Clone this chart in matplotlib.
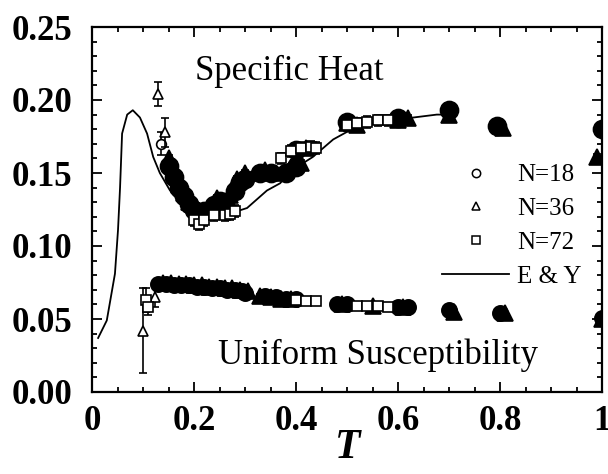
import numpy as np
import matplotlib
matplotlib.use("Agg")
import matplotlib.pyplot as plt
from matplotlib.lines import Line2D

plt.rcParams['font.family'] = ['Liberation Serif', 'DejaVu Serif']

# E & Y curve (specific heat)
ey_t = [0.012, 0.029, 0.045, 0.051, 0.055, 0.059, 0.069, 0.080, 0.094, 0.108, 0.120,
        0.133, 0.153, 0.179, 0.198, 0.22, 0.25, 0.277, 0.304, 0.343, 0.369, 0.388,
        0.433, 0.473, 0.520, 0.584, 0.676, 0.70]
ey_c = [0.037, 0.049, 0.081, 0.111, 0.140, 0.177, 0.190, 0.193, 0.188, 0.177, 0.161,
        0.150, 0.138, 0.127, 0.123, 0.121, 0.121, 0.123, 0.126, 0.138, 0.143, 0.151,
        0.161, 0.173, 0.182, 0.186, 0.190, 0.190]

# specific heat data
c18_t = [0.135, 0.15, 0.16, 0.17, 0.18, 0.19, 0.20, 0.22, 0.24, 0.25, 0.26, 0.28, 0.29,
         0.30, 0.33, 0.35, 0.38, 0.40, 0.40, 0.50, 0.60, 0.70, 0.795, 1.00]
c18_v = [0.170, 0.155, 0.147, 0.140, 0.134, 0.129, 0.125, 0.124, 0.128, 0.131, 0.130,
         0.138, 0.144, 0.146, 0.150, 0.150, 0.150, 0.154, 0.166, 0.185, 0.188, 0.193,
         0.182, 0.180]
c18_e = [0.008] + [0.002] * 23

c36_t = [0.130, 0.143, 0.15, 0.16, 0.17, 0.18, 0.19, 0.21, 0.23, 0.245, 0.27, 0.285,
         0.30, 0.34, 0.36, 0.39, 0.41, 0.42, 0.50, 0.52, 0.60, 0.62, 0.70, 0.805, 0.99]
c36_v = [0.204, 0.178, 0.160, 0.150, 0.142, 0.136, 0.130, 0.124, 0.125, 0.133, 0.135,
         0.146, 0.150, 0.152, 0.150, 0.154, 0.157, 0.167, 0.184, 0.183, 0.186, 0.188,
         0.190, 0.181, 0.161]
c36_e = [0.008, 0.010] + [0.002] * 23

c72_t = [0.20, 0.21, 0.22, 0.24, 0.26, 0.27, 0.28, 0.37, 0.39, 0.41, 0.43, 0.44,
         0.50, 0.52, 0.54, 0.56, 0.58]
c72_v = [0.118, 0.115, 0.118, 0.121, 0.121, 0.122, 0.124, 0.160, 0.165, 0.167, 0.168,
         0.167, 0.183, 0.184, 0.185, 0.186, 0.186]
c72_e = [0.004] * 17

# uniform susceptibility data
x18_t = [0.13, 0.145, 0.16, 0.175, 0.19, 0.205, 0.22, 0.235, 0.25, 0.265, 0.28, 0.295,
         0.30, 0.34, 0.36, 0.38, 0.40, 0.48, 0.50, 0.60, 0.62, 0.70, 0.80, 1.00]
x18_v = [0.074, 0.074, 0.073, 0.073, 0.073, 0.072, 0.072, 0.071, 0.071, 0.070, 0.070,
         0.069, 0.068, 0.066, 0.065, 0.064, 0.064, 0.060, 0.060, 0.058, 0.058, 0.056,
         0.054, 0.051]
x18_e = [0.001] * 24

x36_t = [0.10, 0.124, 0.14, 0.155, 0.17, 0.185, 0.20, 0.215, 0.23, 0.245, 0.26, 0.275,
         0.29, 0.305, 0.33, 0.35, 0.37, 0.39, 0.49, 0.55, 0.61, 0.71, 0.81, 1.00]
x36_v = [0.042, 0.065, 0.075, 0.075, 0.074, 0.074, 0.073, 0.073, 0.072, 0.072, 0.071,
         0.071, 0.070, 0.069, 0.066, 0.065, 0.064, 0.064, 0.060, 0.059, 0.058, 0.055,
         0.054, 0.050]
x36_e = [0.029, 0.007] + [0.001] * 22

x72_t = [0.105, 0.11, 0.40, 0.42, 0.44, 0.52, 0.54, 0.56, 0.58]
x72_v = [0.063, 0.058, 0.063, 0.062, 0.062, 0.059, 0.059, 0.059, 0.058]
x72_e = [0.008, 0.005, 0.002, 0.002, 0.002, 0.002, 0.002, 0.002, 0.002]

fig = plt.figure(figsize=(6.08, 4.74), dpi=100)
ax = fig.add_axes([92/608, 1-392/474, 510/608, 365/474])

ax.plot(ey_t, ey_c, color='black', lw=1.3)


def draw(t, v, e, marker, ms, filled_series=True):
    t = np.array(t); v = np.array(v); e = np.array(e)
    ax.errorbar(t, v, yerr=e, fmt='none', ecolor='black', elinewidth=1.2,
                capsize=3, capthick=1.2)
    big = e >= 0.005
    if filled_series:
        ax.plot(t[~big], v[~big], ls='none', marker=marker, ms=ms, mfc='black',
                mec='black', mew=1.2)
        ax.plot(t[big], v[big], ls='none', marker=marker, ms=7, mfc='white',
                mec='black', mew=1.2)
    else:
        ax.plot(t, v, ls='none', marker=marker, ms=7, mfc='white', mec='black', mew=1.2)


draw(c18_t, c18_v, c18_e, 'o', 13)
draw(c36_t, c36_v, c36_e, '^', 12)
draw(c72_t, c72_v, c72_e, 's', 6, filled_series=False)
draw(x18_t, x18_v, x18_e, 'o', 11)
draw(x36_t, x36_v, x36_e, '^', 11)
draw(x72_t, x72_v, x72_e, 's', 6, filled_series=False)

ax.set_xlim(0, 1)
ax.set_ylim(0, 0.25)
ax.set_xticks([0, 0.2, 0.4, 0.6, 0.8, 1.0])
ax.set_xticklabels(['0', '0.2', '0.4', '0.6', '0.8', '1'])
ax.set_yticks([0, 0.05, 0.10, 0.15, 0.20, 0.25])
ax.set_yticklabels(['0.00', '0.05', '0.10', '0.15', '0.20', '0.25'])
ax.set_xticks(np.arange(0, 1.001, 0.05), minor=True)
ax.set_yticks(np.arange(0, 0.2501, 0.01), minor=True)
ax.tick_params(which='both', direction='in', top=True, right=True, width=1.3)
ax.tick_params(which='major', length=7)
ax.tick_params(which='minor', length=3.5)
ax.tick_params(axis='y', pad=14)
ax.tick_params(axis='x', pad=9)
for lab in ax.get_xticklabels() + ax.get_yticklabels():
    lab.set_fontsize(25)
    lab.set_fontweight('bold')
for s in ax.spines.values():
    s.set_linewidth(1.6)

ax.text(0.202, 0.877, 'Specific Heat', transform=ax.transAxes, fontsize=25,
        va='center', ha='left')
ax.text(0.247, 0.101, 'Uniform Susceptibility', transform=ax.transAxes, fontsize=25,
        va='center', ha='left')
fig.text(348/608, 1-448/474, 'T', fontsize=30, style='italic', fontweight='bold',
         ha='center', va='center')

handles = [Line2D([], [], ls='none', marker='o', ms=6, mfc='white', mec='black', mew=1.1),
           Line2D([], [], ls='none', marker='^', ms=6, mfc='white', mec='black', mew=1.1),
           Line2D([], [], ls='none', marker='s', ms=6, mfc='white', mec='black', mew=1.1),
           Line2D([], [], color='black', lw=1.3)]
ax.legend(handles, ['N=18', 'N=36', 'N=72', 'E & Y'], loc='upper left',
          bbox_to_anchor=(0.686, 0.625), frameon=False, fontsize=18, borderpad=0,
          borderaxespad=0, handlelength=2.7, handletextpad=0.3, labelspacing=0.45)

fig.savefig('out.png', dpi=100)
